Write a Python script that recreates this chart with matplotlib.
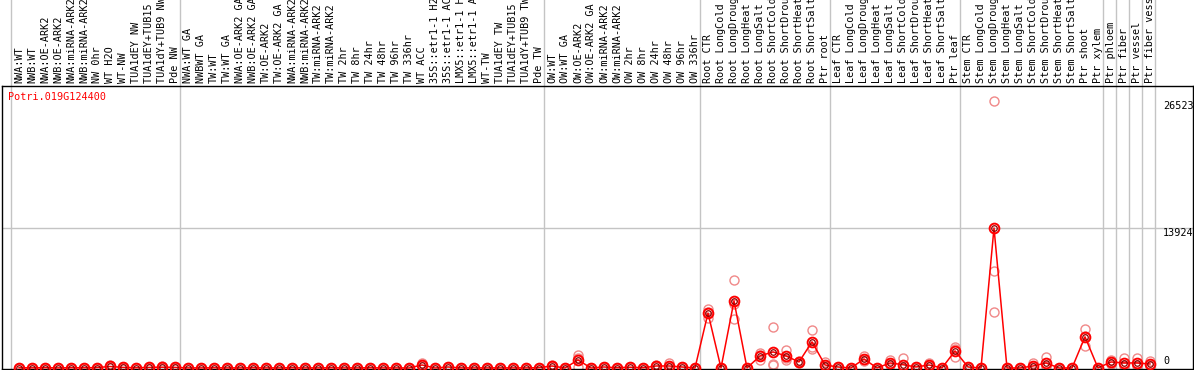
import numpy as np
import matplotlib.pyplot as plt
import matplotlib.transforms as mtransforms

# sample names, in plotting order
samples = [
    "NWA:WT", "NWB:WT", "NWA:OE-ARK2", "NWB:OE-ARK2", "NWA:miRNA-ARK2", "NWB:miRNA-ARK2",
    "NW 0hr", "WT H2O", "WT-NW", "TUA1dEY NW", "TUA1dEY+TUB15 NW", "TUA1dY+TUB9 NW", "Pde NW",
    "NWA:WT GA", "NWBWT GA", "TW:WT", "TW:WT GA", "NWA:OE-ARK2 GA", "NWB:OE-ARK2 GA",
    "TW:OE-ARK2", "TW:OE-ARK2 GA", "NWA:miRNA-ARK2", "NWB:miRNA-ARK2", "TW:miRNA-ARK2",
    "TW:miRNA-ARK2", "TW 2hr", "TW 8hr", "TW 24hr", "TW 48hr", "TW 96hr", "TW 336hr",
    "WT ACC", "35S::etr1-1 H2O", "35S::etr1-1 ACC", "LMX5::etr1-1 H2O", "LMX5::etr1-1 ACC",
    "WT-TW", "TUA1dEY TW", "TUA1dEY+TUB15 TW", "TUA1dY+TUB9 TW", "Pde TW",
    "OW:WT", "OW:WT GA", "OW:OE-ARK2", "OW:OE-ARK2 GA", "OW:miRNA-ARK2", "OW:miRNA-ARK2",
    "OW 2hr", "OW 8hr", "OW 24hr", "OW 48hr", "OW 96hr", "OW 336hr",
    "Root CTR", "Root LongCold", "Root LongDrought", "Root LongHeat", "Root LongSalt",
    "Root ShortCold", "Root ShortDrought", "Root ShortHeat", "Root ShortSalt", "Ptr root",
    "Leaf CTR", "Leaf LongCold", "Leaf LongDrought", "Leaf LongHeat", "Leaf LongSalt",
    "Leaf ShortCold", "Leaf ShortDrought", "Leaf ShortHeat", "Leaf ShortSalt", "Ptr leaf",
    "Stem CTR", "Stem LongCold", "Stem LongDrought", "Stem LongHeat", "Stem LongSalt",
    "Stem ShortCold", "Stem ShortDrought", "Stem ShortHeat", "Stem ShortSalt", "Ptr shoot",
    "Ptr xylem", "Ptr phloem", "Ptr fiber", "Ptr vessel", "Ptr fiber vessel",
]

# index where each experiment group starts (last one = end)
group_starts = [0, 13, 41, 53, 63, 73, 84, 85, 86, 87, 88]

gene = "Potri.019G124400"

# mean expression per sample
means = [
    20, 15, 30, 10, 25, 20, 40, 150, 60, 20, 60, 80, 60,
    10, 10, 20, 10, 10, 20, 10, 10, 20, 10, 10, 20, 10, 10, 20, 10, 10, 0,
    300, 0, 100, 10, 10, 10, 10, 10, 10, 30,
    200, 0, 800, 0, 100, 20, 80, 20, 200, 200, 100, 0,
    5470, 0, 6670, 0, 1200, 1600, 1200, 600, 2600, 300,
    100, 0, 900, 0, 500, 330, 100, 300, 0, 1700,
    100, 0, 13924, 0, 0, 200, 500, 0, 0, 3100,
    0, 600, 500, 500, 400,
]

# replicate values
rep_a = [
    20, 15, 30, 10, 25, 20, 40, 300, 120, 20, 130, 150, 130,
    10, 10, 20, 10, 10, 20, 10, 10, 20, 10, 10, 20, 10, 10, 20, 10, 10, 0,
    500, 0, 100, 10, 10, 10, 10, 10, 10, 30,
    300, 0, 1300, 0, 100, 20, 80, 20, 300, 500, 100, 0,
    5870, 0, 8750, 0, 1500, 4100, 1800, 700, 3800, 600,
    100, 0, 1200, 0, 800, 1000, 100, 500, 0, 2100,
    100, 0, 26523, 0, 0, 500, 1100, 0, 0, 3900,
    0, 800, 1000, 1000, 700,
]
rep_b = [
    20, 15, 30, 10, 25, 20, 40, 50, 30, 20, 20, 40, 20,
    10, 10, 20, 10, 10, 20, 10, 10, 20, 10, 10, 20, 10, 10, 20, 10, 10, 0,
    150, 0, 100, 10, 10, 10, 10, 10, 10, 30,
    150, 0, 100, 0, 100, 20, 80, 20, 150, 50, 100, 0,
    4970, 0, 4870, 0, 800, 400, 800, 500, 1900, 100,
    100, 0, 700, 0, 300, 0, 100, 200, 0, 1100,
    100, 0, 5570, 0, 0, 50, 200, 0, 0, 2200,
    0, 400, 300, 300, 300,
]
rep_c = [
    20, 15, 30, 10, 25, 20, 40, 100, 30, 20, 30, 50, 30,
    10, 10, 20, 10, 10, 20, 10, 10, 20, 10, 10, 20, 10, 10, 20, 10, 10, 0,
    250, 0, 100, 10, 10, 10, 10, 10, 10, 30,
    150, 0, 1000, 0, 100, 20, 80, 20, 150, 50, 100, 0,
    5570, 0, 6390, 0, 1300, 300, 1000, 600, 2100, 200,
    100, 0, 800, 0, 400, 0, 100, 200, 0, 1900,
    100, 0, 9680, 0, 0, 50, 200, 0, 0, 3200,
    0, 600, 200, 200, 200,
]

mono = "DejaVu Sans Mono"
grey = "#c4c4c4"

fig = plt.figure(figsize=(11.94, 3.70), dpi=100)
ax = fig.add_axes([2 / 1194, 1 / 370, 1191 / 1194, 283 / 370])

x = np.arange(len(samples))
ax.set_xlim((2 - 19) / 13, (1193 - 19) / 13)
ax.set_ylim(-100, 28050)
ax.set_xticks([])
ax.set_yticks([])
for s in ax.spines.values():
    s.set_color("black")
    s.set_linewidth(1)

trans = mtransforms.blended_transform_factory(ax.transData, ax.transAxes)

# group separators, running up through the label area
for b in group_starts:
    ax.plot([b - 8 / 13, b - 8 / 13], [0, 369 / 283], color=grey, lw=1,
            transform=trans, clip_on=False, zorder=1)

ax.axhline(max(means), color=grey, lw=1, zorder=1)

# replicates
for rep in (rep_a, rep_b, rep_c):
    ax.plot(x, rep, "o", mfc="none", mec="#f08888", ms=6.5, mew=1, zorder=2, clip_on=False)

# means
ax.plot(x, means, color="red", lw=1.1, zorder=3, clip_on=False)
ax.plot(x, means, "o", mfc="none", mec="red", ms=7, mew=1.4, zorder=4, clip_on=False)
ax.plot(x, means, "o", mfc="none", mec="#900000", ms=4, mew=0.9, zorder=5, clip_on=False)

# sample labels
for i, name in enumerate(samples):
    ax.text(i, 1 + 3 / 283, name, transform=trans, rotation=90, ha="center", va="bottom",
            fontsize=7.3, family=mono, clip_on=False)

# value labels on the right
top = max(rep_a + rep_b + rep_c)
ax.text(88, top, str(top), ha="left", va="top", fontsize=7.3, family=mono)
ax.text(88, max(means), str(max(means)), ha="left", va="top", fontsize=7.3, family=mono)
ax.text(88, 150, "0", ha="left", va="bottom", fontsize=7.3, family=mono)

ax.text(6 / 1191, 1 - 6 / 283, gene, transform=ax.transAxes, ha="left", va="top",
        fontsize=7.3, family=mono, color="red")

fig.savefig("out.png", dpi=100)
